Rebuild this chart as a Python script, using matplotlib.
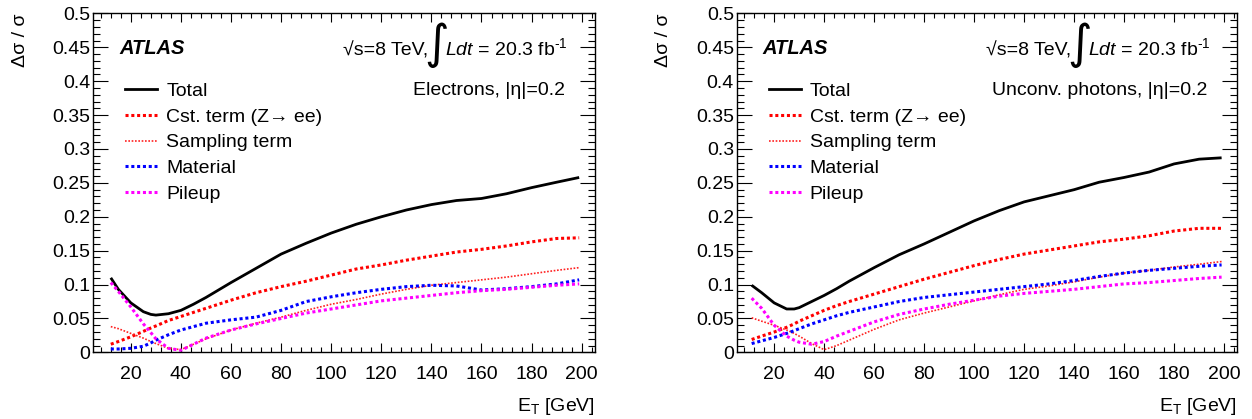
import numpy as np
import matplotlib
matplotlib.use('Agg')
import matplotlib.pyplot as plt
from matplotlib.lines import Line2D
from matplotlib.ticker import MultipleLocator, FormatStrFormatter

plt.rcParams['font.family'] = ['Liberation Sans', 'DejaVu Sans']
plt.rcParams['mathtext.fontset'] = 'custom'
plt.rcParams['mathtext.rm'] = 'Liberation Sans'
plt.rcParams['mathtext.it'] = 'Liberation Sans:italic'
plt.rcParams['mathtext.bf'] = 'Liberation Sans:bold'

# ---- data ----
et_el = [12, 15, 20, 25, 28, 30, 35, 40, 45, 50, 60, 70, 80, 90, 100, 110, 120, 130, 140, 150, 160, 170, 180, 190, 199]
total_el = [.110, .093, .073, .060, .056, .055, .057, .062, .071, .081, .103, .124, .145, .161, .176, .189, .200, .210, .218, .224, .227, .234, .243, .251, .258]
cst_el = [.012, .016, .023, .031, .036, .039, .047, .053, .059, .065, .077, .088, .097, .105, .114, .123, .129, .136, .142, .148, .152, .157, .163, .168, .169]
samp_el = [.038, .035, .028, .021, .016, .013, .006, .004, .012, .020, .033, .043, .052, .062, .071, .078, .086, .093, .099, .103, .107, .111, .116, .121, .125]
mat_el = [.005, .005, .006, .009, .014, .018, .026, .033, .038, .043, .048, .052, .062, .075, .082, .088, .093, .097, .099, .098, .092, .094, .097, .101, .107]
pile_el = [.103, .090, .067, .042, .029, .020, .006, .003, .012, .021, .033, .042, .050, .058, .064, .070, .076, .080, .084, .088, .091, .093, .096, .099, .101]

et_ph = [11, 15, 20, 25, 28, 30, 35, 40, 45, 50, 60, 70, 80, 90, 100, 110, 120, 130, 140, 150, 160, 170, 180, 190, 199]
total_ph = [.099, .088, .073, .064, .064, .066, .075, .084, .094, .105, .125, .144, .160, .177, .194, .209, .222, .231, .240, .251, .258, .266, .278, .285, .287]
cst_ph = [.019, .024, .030, .037, .042, .046, .054, .062, .069, .075, .086, .097, .108, .118, .128, .137, .145, .151, .157, .163, .167, .172, .179, .183, .183]
samp_ph = [.051, .046, .040, .033, .028, .024, .013, .004, .010, .018, .034, .048, .058, .067, .076, .085, .093, .098, .104, .111, .117, .121, .126, .130, .134]
mat_ph = [.013, .017, .022, .028, .032, .035, .042, .048, .054, .059, .067, .075, .081, .085, .089, .093, .097, .101, .106, .112, .117, .121, .124, .127, .129]
pile_ph = [.080, .065, .040, .024, .018, .015, .012, .016, .024, .031, .045, .056, .064, .071, .077, .083, .087, .090, .093, .097, .101, .103, .106, .109, .111]

labels = ['Total', 'Cst. term (Z\u2192 ee)', 'Sampling term', 'Material', 'Pileup']

FS = 14
dash = (0, (1.0, 0.9))
styles = [dict(color='black', lw=2.0, ls='-'),
          dict(color='#ff0000', lw=2.2, ls=dash),
          dict(color='#ff2020', lw=1.2, ls=(0, (1, 1))),
          dict(color='#0000ff', lw=2.2, ls=dash),
          dict(color='#ff00ff', lw=2.2, ls=dash)]


def draw_panel(ax, x, series, tag):
    for y, st in zip(series, styles):
        ax.plot(x, y, solid_capstyle='butt', dash_capstyle='butt', **st)

    ax.set_xlim(5, 205.3)
    ax.set_ylim(0, 0.5)
    ax.xaxis.set_major_locator(MultipleLocator(20))
    ax.xaxis.set_minor_locator(MultipleLocator(4))
    ax.yaxis.set_major_locator(MultipleLocator(0.05))
    ax.yaxis.set_minor_locator(MultipleLocator(0.01))
    ax.yaxis.set_major_formatter(FormatStrFormatter('%g'))
    ax.tick_params(which='both', direction='in', top=True, right=True, width=0.8, labelsize=FS)
    ax.tick_params(axis='y', which='major', length=10.5, pad=2)
    ax.tick_params(axis='y', which='minor', length=5.2)
    ax.tick_params(axis='x', which='major', length=6.5, pad=10)
    ax.tick_params(axis='x', which='minor', length=3.6)
    for sp in ax.spines.values():
        sp.set_linewidth(1.0)

    ax.set_xlabel(r'E$_{\rm T}$ [GeV]', fontsize=FS, loc='right', labelpad=9)
    ax.set_ylabel('\u0394\u03c3 / \u03c3', fontsize=FS, loc='top', labelpad=17)

    ax.text(0.052, 0.895, 'ATLAS', transform=ax.transAxes, fontsize=FS + 0.5,
            fontweight='bold', style='italic', va='center')
    ax.text(0.668, 0.877, '\u221as=8 TeV,', transform=ax.transAxes, fontsize=FS,
            ha='right', va='baseline')
    ax.text(0.684, 0.905, '\u222b', transform=ax.transAxes, fontsize=34,
            ha='center', va='center', family='DejaVu Sans')
    ax.text(0.702, 0.877, r'$Ldt$ = 20.3 fb$^{\text{-1}}$', transform=ax.transAxes,
            fontsize=FS, ha='left', va='baseline')
    ax.text(0.94, 0.774, tag, transform=ax.transAxes, fontsize=FS,
            ha='right', va='center')

    handles = [Line2D([], [], **st) for st in styles]
    ax.legend(handles, labels, loc='upper left', bbox_to_anchor=(0.064, 0.797),
              frameon=False, fontsize=FS, handlelength=1.65, handletextpad=0.45,
              labelspacing=0.42, borderpad=0, borderaxespad=0)


fig = plt.figure(figsize=(12.52, 4.19), dpi=100)
ax1 = fig.add_axes([0.0745, 0.159, 0.4007, 0.809])
ax2 = fig.add_axes([0.5884, 0.159, 0.3999, 0.809])

draw_panel(ax1, et_el, [total_el, cst_el, samp_el, mat_el, pile_el], 'Electrons, |\u03b7|=0.2')
draw_panel(ax2, et_ph, [total_ph, cst_ph, samp_ph, mat_ph, pile_ph], 'Unconv. photons, |\u03b7|=0.2')

fig.savefig('out.png', dpi=100)
